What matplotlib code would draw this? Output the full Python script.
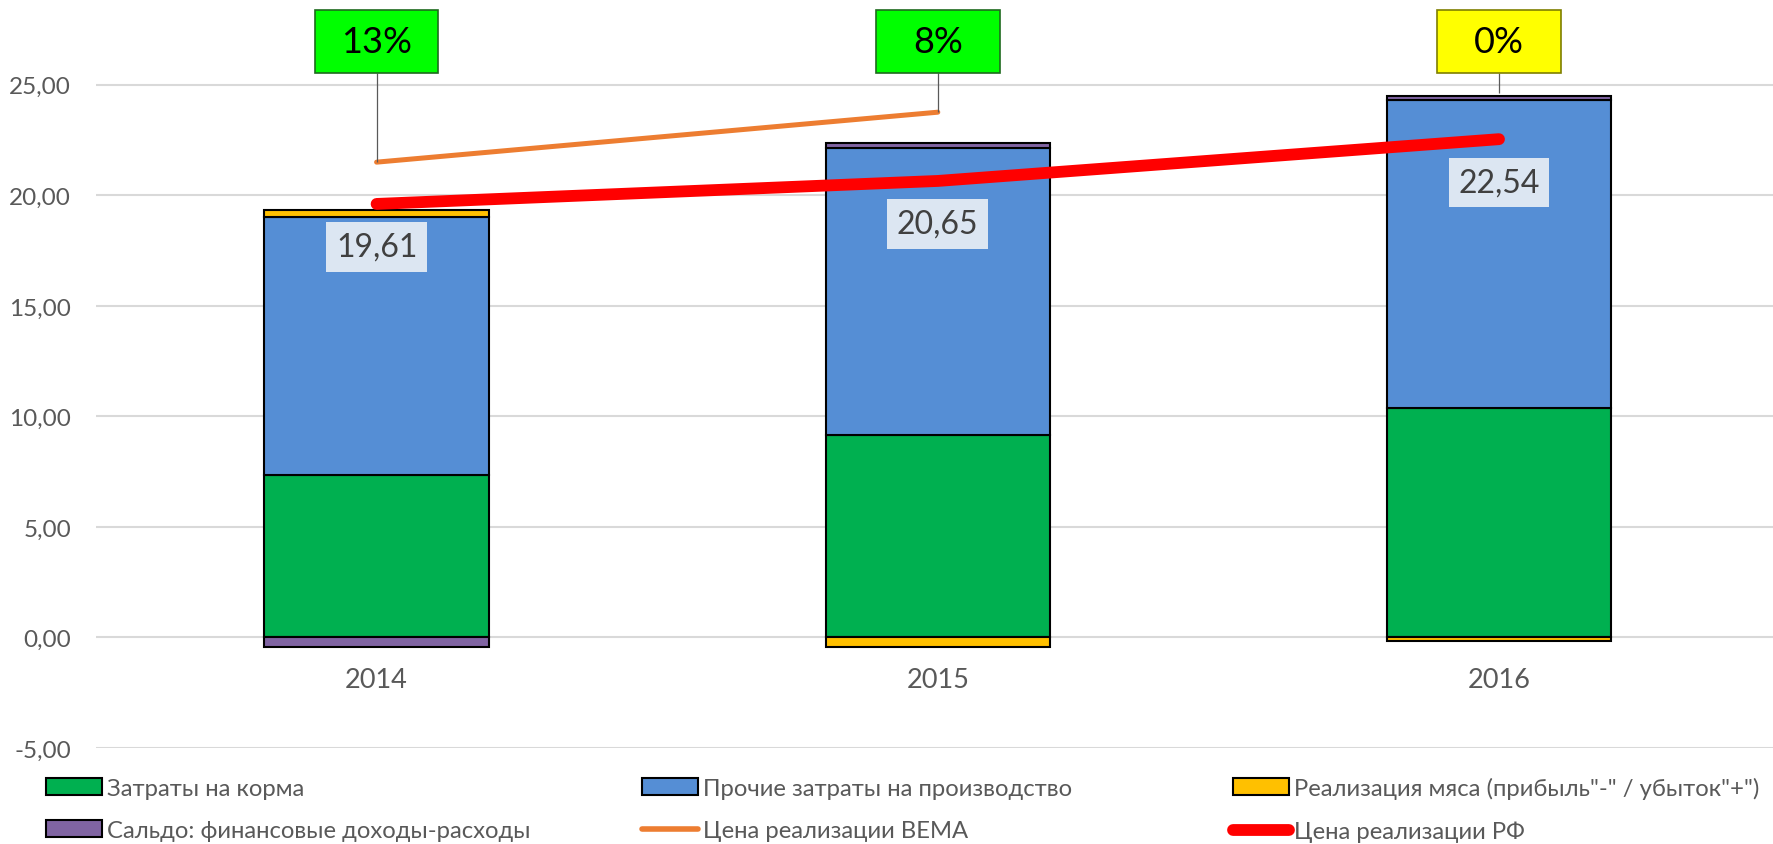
import numpy as np
import matplotlib
matplotlib.use('Agg')
import matplotlib.pyplot as plt
from matplotlib.patches import Rectangle
from matplotlib.lines import Line2D
from matplotlib.ticker import FuncFormatter

plt.rcParams['font.family'] = ['Lato', 'Noto Sans', 'DejaVu Sans']

years = ['2014', '2015', '2016']
feed = [7.35, 9.18, 10.36]            # Затраты на корма
other = [11.68, 12.96, 13.97]         # Прочие затраты на производство
meat = [0.31, -0.44, -0.17]           # Реализация мяса
saldo = [-0.45, 0.23, 0.16]           # Сальдо
price_vema = [21.50, 23.76, np.nan]   # Цена реализации ВЕМА
price_rf = [19.61, 20.65, 22.54]      # Цена реализации РФ
pct_labels = ['13%', '8%', '0%']
pct_colors = ['#00FF00', '#00FF00', '#FFFF00']
pct_edges = ['#1E6B1E', '#1E6B1E', '#7F7F00']
pct_anchor = [21.50, 23.76, 24.65]

names = ['Затраты на корма', 'Прочие затраты на производство',
         'Реализация мяса (прибыль"-" / убыток"+")',
         'Сальдо: финансовые доходы-расходы', 'Цена реализации ВЕМА',
         'Цена реализации РФ']
bar_colors = ['#00B050', '#558ED5', '#FFC000', '#8064A2']

fig = plt.figure(figsize=(17.74, 8.45), dpi=100)
ax = fig.add_axes([0.0541, 0.1136, 0.9459, 0.8864])

x = np.arange(len(years))
width = 0.4
pos_bottom = np.zeros(len(years))
neg_bottom = np.zeros(len(years))
for vals, col in zip([feed, other, meat, saldo], bar_colors):
    vals = np.array(vals)
    bottom = np.where(vals >= 0, pos_bottom, neg_bottom)
    ax.bar(x, vals, width, bottom=bottom, color=col, edgecolor='black',
           linewidth=1.5, zorder=2)
    pos_bottom += np.where(vals >= 0, vals, 0)
    neg_bottom += np.where(vals < 0, vals, 0)

ax.plot(x, price_vema, color='#ED7D31', lw=3.6, solid_capstyle='round', zorder=3)
ax.plot(x, price_rf, color='#FF0000', lw=8.5, solid_capstyle='round', zorder=4)

# value labels of the RF price
for i, v in enumerate(price_rf):
    ax.annotate(f'{v:.2f}'.replace('.', ','), (x[i], v), xytext=(0, -31),
                textcoords='offset points', ha='center', va='center',
                fontsize=23, color='#404040', zorder=5,
                bbox=dict(boxstyle='square,pad=0.3', fc='#DCE6F2', ec='none'))

# percentage boxes with leader lines
box_w, box_h, box_y = 0.22, 2.85, 26.97
for i, lab in enumerate(pct_labels):
    ax.vlines(x[i], pct_anchor[i], box_y - box_h / 2, color='#595959', lw=0.9, zorder=3)
    ax.add_patch(Rectangle((x[i] - box_w / 2, box_y - box_h / 2), box_w, box_h,
                           fc=pct_colors[i], ec=pct_edges[i], lw=1.2, zorder=5))
    ax.text(x[i], box_y, lab, ha='center', va='center', fontsize=26,
            color='black', zorder=6)

ax.set_xlim(-0.5, 2.49)
ax.set_ylim(-5, 28.88)
ax.set_yticks([-5, 0, 5, 10, 15, 20, 25])
ax.yaxis.set_major_formatter(FuncFormatter(lambda v, p: f'{v:.2f}'.replace('.', ',')))
ax.set_xticks(x)
ax.set_xticklabels(years)
for s in ['top', 'right', 'left']:
    ax.spines[s].set_visible(False)
ax.spines['bottom'].set_position(('data', 0))
ax.spines['bottom'].set_visible(False)
ax.tick_params(axis='y', length=0, pad=18, labelsize=17.5, labelcolor='#595959')
ax.tick_params(axis='x', length=0, pad=21, labelsize=19.5, labelcolor='#595959')
ax.yaxis.grid(True, color='#D9D9D9', lw=1.5, zorder=0)
ax.set_axisbelow(True)

handles = [Rectangle((0, 0), 1, 1, fc=c, ec='black', lw=1.5) for c in bar_colors]
handles += [Line2D([], [], color='#ED7D31', lw=4, solid_capstyle='round'),
            Line2D([], [], color='#FF0000', lw=8.5, solid_capstyle='round')]
cols = [(0, 3), (1, 4), (2, 5)]
lx = [0.026, 0.362, 0.695]
for (a, b), xx in zip(cols, lx):
    leg = fig.legend([handles[a], handles[b]], [names[a], names[b]],
                     loc='center left', bbox_to_anchor=(xx, 0.041), frameon=False,
                     fontsize=17.2, handlelength=2.35, handletextpad=0.2,
                     labelspacing=0.9, borderpad=0, borderaxespad=0)
    for t in leg.get_texts():
        t.set_color('#595959')

fig.savefig('out.png', dpi=100)
